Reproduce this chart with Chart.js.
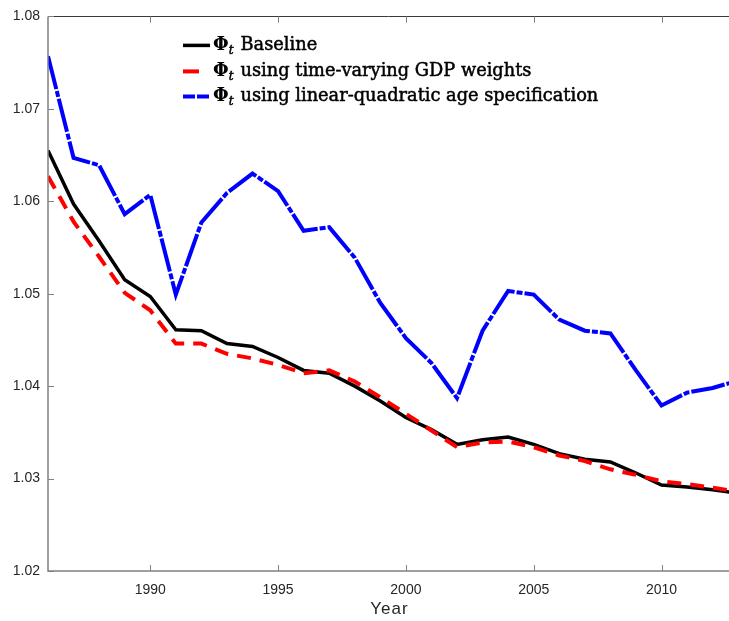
<!DOCTYPE html>
<html>
<head>
<meta charset="utf-8">
<script src="https://cdn.jsdelivr.net/npm/chart.js@4"></script>
<style>
  html, body { margin: 0; padding: 0; background: #fff; }
  #wrap { width: 729px; height: 621px; }
</style>
</head>
<body>
<div id="wrap"><canvas id="c" width="729" height="621"></canvas></div>
<script>
const years = [1986,1987,1988,1989,1990,1991,1992,1993,1994,1995,1996,1997,1998,1999,2000,2001,2002,2003,2004,2005,2006,2007,2008,2009,2010,2011,2012,2013];
const baseline = [1.0655,1.0597,1.0557,1.0515,1.0497,1.0461,1.0460,1.0446,1.0443,1.0431,1.0417,1.0414,1.0400,1.0384,1.0366,1.0353,1.0337,1.0342,1.0345,1.0337,1.0327,1.0321,1.0318,1.0306,1.0293,1.0291,1.0288,1.0284];
const gdpWeights = [1.0627,1.0578,1.0540,1.0501,1.0482,1.0446,1.0446,1.0435,1.0430,1.0423,1.0414,1.0417,1.0405,1.0388,1.0370,1.0352,1.0334,1.0339,1.0340,1.0334,1.0325,1.0319,1.0310,1.0304,1.0297,1.0294,1.0290,1.0286];
const linQuad = [1.0757,1.0647,1.0639,1.0586,1.0607,1.0499,1.0577,1.0609,1.0630,1.0611,1.0568,1.0572,1.0539,1.0490,1.0452,1.0425,1.0387,1.0460,1.0503,1.0499,1.0472,1.0460,1.0457,1.0417,1.0379,1.0393,1.0398,1.0406];
const seriesNames = ["Baseline", "using time-varying GDP weights", "using linear-quadratic age specification"];
const xTickValues = [1990, 1995, 2000, 2005, 2010];
const yTickValues = [1.02, 1.03, 1.04, 1.05, 1.06, 1.07, 1.08];
const xTitle = "Year";

const toXY = arr => arr.map((v, i) => ({ x: years[i], y: v }));

const styles = [
  { color: '#000000', dash: [], width: 3.5 },
  { color: '#ff0000', dash: [14, 9], width: 4 },
  { color: '#0000ff', dash: [34, 2, 6, 2], width: 4 }
];

const axisColor = '#808080';
const labelColor = '#262626';

const framePlugin = {
  id: 'frame',
  afterDraw(chart) {
    const ctx = chart.ctx;
    const a = chart.chartArea;
    const xs = chart.scales.x, ys = chart.scales.y;
    ctx.save();
    ctx.strokeStyle = '#3a3a3a';
    ctx.lineWidth = 1;
    ctx.beginPath();
    ctx.moveTo(a.left, Math.round(a.top) + 0.5);
    ctx.lineTo(a.right, Math.round(a.top) + 0.5);
    ctx.stroke();
    ctx.strokeStyle = axisColor;
    ctx.lineWidth = 1.5;
    ctx.beginPath();
    ctx.moveTo(a.left, a.top);
    ctx.lineTo(a.left, a.bottom);
    ctx.lineTo(a.right, a.bottom);
    ctx.stroke();
    ctx.lineWidth = 1;
    ctx.beginPath();
    xTickValues.forEach(v => {
      const px = Math.round(xs.getPixelForValue(v)) + 0.5;
      ctx.moveTo(px, a.bottom); ctx.lineTo(px, a.bottom - 6);
      ctx.moveTo(px, a.top); ctx.lineTo(px, a.top + 6);
    });
    yTickValues.forEach(v => {
      const py = Math.round(ys.getPixelForValue(v)) + 0.5;
      ctx.moveTo(a.left, py); ctx.lineTo(a.left + 6, py);
    });
    ctx.stroke();

    // x title with letter spacing
    ctx.fillStyle = labelColor;
    ctx.font = '17px "Liberation Sans", Arial';
    ctx.textAlign = 'center';
    ctx.textBaseline = 'middle';
    try { ctx.letterSpacing = '1px'; } catch (e) {}
    ctx.fillText(xTitle, (a.left + a.right) / 2 + 1, 609);
    try { ctx.letterSpacing = '0px'; } catch (e) {}

    // legend
    const lx0 = a.left + 135, lx1 = a.left + 162;
    const tx = a.left + 165;
    const rows = [a.top + 29, a.top + 55, a.top + 80];
    const mainFont = '17.8px "DejaVu Serif"';
    const subFont = 'italic 12px "DejaVu Serif"';
    rows.forEach((ry, i) => {
      const s = styles[i];
      ctx.strokeStyle = s.color;
      ctx.lineWidth = s.width;
      ctx.setLineDash(i === 1 ? [] : (i === 2 ? [12, 2] : s.dash));
      ctx.beginPath();
      if (i === 1) { ctx.moveTo(lx0, ry); ctx.lineTo(lx0 + 16, ry); }
      else { ctx.moveTo(lx0, ry); ctx.lineTo(lx1, ry); }
      ctx.stroke();
      ctx.setLineDash([]);
      ctx.fillStyle = '#000';
      ctx.strokeStyle = '#000';
      ctx.lineWidth = 0.5;
      ctx.textBaseline = 'middle';
      ctx.textAlign = 'left';
      ctx.font = 'bold 18px "DejaVu Serif"';
      ctx.fillText('\u03A6', tx, ry);
      const w1 = ctx.measureText('\u03A6').width;
      ctx.font = subFont;
      ctx.fillText('t', tx + w1, ry + 5);
      ctx.strokeText('t', tx + w1, ry + 5);
      const w2 = ctx.measureText('t').width;
      ctx.font = mainFont;
      const x3 = tx + w1 + w2 + 7;
      ctx.fillText(seriesNames[i], x3, ry);
      ctx.strokeText(seriesNames[i], x3, ry);
    });
    ctx.restore();
  }
};

new Chart(document.getElementById('c'), {
  type: 'line',
  data: {
    datasets: [
      { label: seriesNames[1], data: toXY(gdpWeights), borderColor: styles[1].color, borderDash: styles[1].dash, borderWidth: styles[1].width, order: 0 },
      { label: seriesNames[0], data: toXY(baseline), borderColor: styles[0].color, borderDash: styles[0].dash, borderWidth: styles[0].width, order: 1 },
      { label: seriesNames[2], data: toXY(linQuad), borderColor: styles[2].color, borderDash: styles[2].dash, borderWidth: styles[2].width, order: 2 }
    ]
  },
  options: {
    responsive: false,
    animation: false,
    devicePixelRatio: 1,
    layout: { padding: { top: 15, right: 0, left: 0, bottom: 0 } },
    elements: { point: { radius: 0 }, line: { tension: 0, borderJoinStyle: 'miter', borderCapStyle: 'butt' } },
    plugins: { legend: { display: false }, tooltip: { enabled: false } },
    scales: {
      x: {
        type: 'linear',
        min: 1986,
        max: 2012.64,
        grid: { display: false, drawTicks: false, tickLength: 0 },
        border: { display: false },
        afterBuildTicks: s => { s.ticks = xTickValues.map(v => ({ value: v })); },
        afterFit: s => { s.height = 50; },
        ticks: { color: labelColor, font: { family: 'Liberation Sans, Arial', size: 14 }, padding: 11, maxRotation: 0, callback: v => String(v) },
        title: { display: false }
      },
      y: {
        type: 'linear',
        min: 1.02,
        max: 1.08,
        grid: { display: false, drawTicks: false, tickLength: 0 },
        border: { display: false },
        afterBuildTicks: s => { s.ticks = yTickValues.map(v => ({ value: v })); },
        afterFit: s => { s.width = 48; },
        ticks: { color: labelColor, font: { family: 'Liberation Sans, Arial', size: 14 }, padding: 8, callback: v => Number(v).toFixed(2) }
      }
    }
  },
  plugins: [framePlugin]
});
</script>
</body>
</html>
